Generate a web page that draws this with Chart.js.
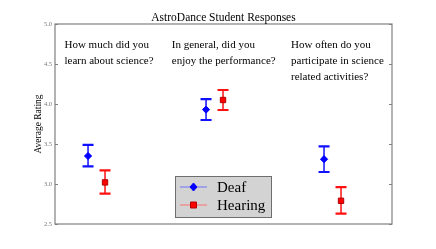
<!DOCTYPE html>
<html>
<head>
<meta charset="utf-8">
<script src="https://cdn.jsdelivr.net/npm/chart.js@4"></script>
<style>
  html, body { margin: 0; padding: 0; background: #fff; }
  #wrap { width: 436px; height: 249px; }
</style>
</head>
<body>
<div id="wrap"><canvas id="chart" width="436" height="249"></canvas></div>
<script>
// question groups (x positions in data units)
const groupX = [0, 1, 2];
const hearingOffset = 0.144;

const questions = [
  ['How much did you', 'learn about science?'],
  ['In general, did you', 'enjoy the performance?'],
  ['How often do you', 'participate in science', 'related activities?']
];
const questionX = [-0.2, 0.71, 1.72];

// mean ratings and error bar ends
const deafMean = [3.35, 3.93, 3.31];
const deafLow = [3.22, 3.80, 3.15];
const deafHigh = [3.49, 4.06, 3.47];

const hearingMean = [3.02, 4.05, 2.79];
const hearingLow = [2.88, 3.925, 2.63];
const hearingHigh = [3.17, 4.175, 2.96];

const yTicks = [2.5, 3.0, 3.5, 4.0, 4.5, 5.0];

const SERIF = '"Liberation Serif", "DejaVu Serif", serif';
const FRAME = '#808080';

const deafPoints = groupX.map((x, i) => ({ x: x, y: deafMean[i], lo: deafLow[i], hi: deafHigh[i] }));
const hearingPoints = groupX.map((x, i) => ({ x: x + hearingOffset, y: hearingMean[i], lo: hearingLow[i], hi: hearingHigh[i] }));

// error bars, frame, texts and legend
const decorPlugin = {
  id: 'decor',
  beforeDatasetsDraw(chart) {
    const ctx = chart.ctx;
    const xs = chart.scales.x, ys = chart.scales.y;
    chart.data.datasets.forEach(ds => {
      ctx.save();
      ctx.strokeStyle = ds.barColor;
      ds.data.forEach(p => {
        const px = xs.getPixelForValue(p.x);
        const top = ys.getPixelForValue(p.hi);
        const bot = ys.getPixelForValue(p.lo);
        ctx.lineWidth = 1.5;
        ctx.beginPath();
        ctx.moveTo(px, top); ctx.lineTo(px, bot);
        ctx.stroke();
        ctx.lineWidth = 2.2;
        ctx.beginPath();
        ctx.moveTo(px - 5.5, top); ctx.lineTo(px + 5.5, top);
        ctx.moveTo(px - 5.5, bot); ctx.lineTo(px + 5.5, bot);
        ctx.stroke();
      });
      ctx.restore();
    });
  },
  afterDraw(chart) {
    const ctx = chart.ctx;
    const a = chart.chartArea;
    const xs = chart.scales.x, ys = chart.scales.y;
    ctx.save();

    // frame
    ctx.strokeStyle = FRAME;
    ctx.lineWidth = 1.2;
    ctx.strokeRect(a.left, a.top, a.right - a.left, a.bottom - a.top);
    // inward ticks
    ctx.lineWidth = 1;
    yTicks.forEach(v => {
      const py = Math.round(ys.getPixelForValue(v)) + 0.5;
      ctx.beginPath();
      ctx.moveTo(a.left, py); ctx.lineTo(a.left + 3, py);
      ctx.moveTo(a.right, py); ctx.lineTo(a.right - 3, py);
      ctx.stroke();
    });

    // title
    ctx.fillStyle = '#000';
    ctx.font = '11.5px ' + SERIF;
    ctx.textAlign = 'center';
    ctx.textBaseline = 'alphabetic';
    ctx.fillText('AstroDance Student Responses', (a.left + a.right) / 2, a.top - 3);

    // y axis label
    ctx.save();
    ctx.translate(38, (a.top + a.bottom) / 2);
    ctx.rotate(-Math.PI / 2);
    ctx.font = '9.5px ' + SERIF;
    ctx.textBaseline = 'middle';
    ctx.fillText('Average Rating', 0, 0);
    ctx.restore();

    // questions
    ctx.font = '11px ' + SERIF;
    ctx.textAlign = 'left';
    ctx.textBaseline = 'middle';
    questions.forEach((lines, i) => {
      const px = xs.getPixelForValue(questionX[i]);
      lines.forEach((t, j) => {
        ctx.fillText(t, px, ys.getPixelForValue(4.73) + j * 16);
      });
    });

    // legend
    const lx = a.left + 120, ly = a.top + 152, lw = 96, lh = 41;
    ctx.fillStyle = '#d3d3d3';
    ctx.fillRect(lx, ly, lw, lh);
    ctx.strokeStyle = '#6e6e6e';
    ctx.lineWidth = 1;
    ctx.strokeRect(lx + 0.5, ly + 0.5, lw, lh);
    ctx.font = '15px ' + SERIF;
    ctx.textBaseline = 'middle';
    chart.data.datasets.forEach((ds, i) => {
      const cy = ly + 11 + i * 18;
      ctx.strokeStyle = ds.legendLine;
      ctx.lineWidth = 1;
      ctx.beginPath();
      ctx.moveTo(lx + 5, cy); ctx.lineTo(lx + 32, cy);
      ctx.stroke();
      ctx.fillStyle = ds.backgroundColor;
      ctx.strokeStyle = ds.borderColor;
      ctx.lineWidth = 1;
      const mx = lx + 18.5;
      ctx.beginPath();
      if (ds.pointStyle === 'rectRot') {
        ctx.moveTo(mx, cy - 4); ctx.lineTo(mx + 3.5, cy); ctx.lineTo(mx, cy + 4); ctx.lineTo(mx - 3.5, cy);
        ctx.closePath();
      } else {
        ctx.rect(mx - 3, cy - 3, 6, 6);
      }
      ctx.fill(); ctx.stroke();
      ctx.fillStyle = '#000';
      ctx.fillText(ds.label, lx + 42, cy + 1);
    });
    ctx.restore();
  }
};

new Chart(document.getElementById('chart'), {
  type: 'scatter',
  data: {
    datasets: [
      {
        label: 'Deaf',
        data: deafPoints,
        backgroundColor: '#0000ff',
        borderColor: '#0000ff',
        barColor: '#1010ff',
        legendLine: '#7070ff',
        pointStyle: 'rectRot',
        pointRadius: 3.6,
        borderWidth: 1
      },
      {
        label: 'Hearing',
        data: hearingPoints,
        backgroundColor: '#ff0000',
        borderColor: '#b00000',
        barColor: '#ff1010',
        legendLine: '#ff7070',
        pointStyle: 'rect',
        pointRadius: 3.8,
        borderWidth: 1
      }
    ]
  },
  options: {
    responsive: false,
    animation: false,
    events: [],
    layout: { padding: { top: 24, right: 44, bottom: 25, left: 0 } },
    plugins: {
      legend: { display: false },
      title: { display: false },
      tooltip: { enabled: false }
    },
    scales: {
      x: {
        type: 'linear',
        display: false,
        min: -0.28,
        max: 2.576
      },
      y: {
        type: 'linear',
        min: 2.5,
        max: 5.0,
        afterFit(scale) { scale.width = 55; },
        afterBuildTicks(scale) { scale.ticks = yTicks.map(v => ({ value: v })); },
        grid: { display: false, drawTicks: false },
        border: { display: false },
        ticks: {
          padding: 3,
          color: '#777',
          font: { family: SERIF, size: 6.5 },
          callback: v => v.toFixed(1)
        }
      }
    }
  },
  plugins: [decorPlugin]
});
</script>
</body>
</html>
